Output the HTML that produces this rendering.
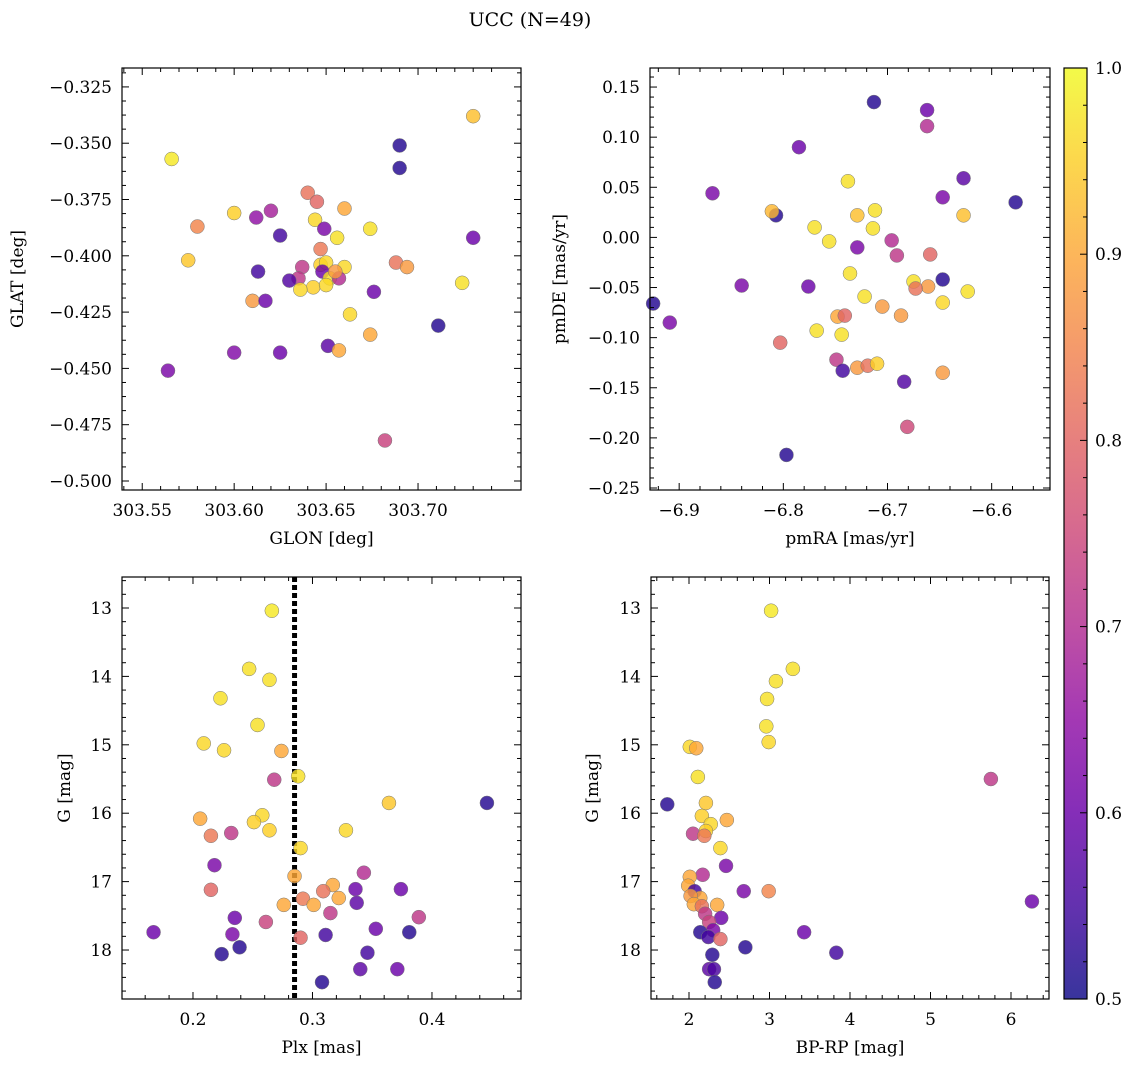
<!DOCTYPE html>
<html><head><meta charset="utf-8"><style>
body{margin:0;background:#fff;}
svg{display:block;font-family:"DejaVu Serif","Liberation Serif",serif;}
</style></head><body>
<svg id="fig" width="1136" height="1067" viewBox="0 0 1136 1067" xmlns="http://www.w3.org/2000/svg">
<text x="530" y="26" font-size="19" text-anchor="middle">UCC (N=49)</text>
</svg>
<script>
// Panel 1: GLON vs GLAT
const p1Glon=[303.730,303.690,303.690,303.566,303.640,303.645,303.600,303.580,303.612,303.620,303.660,303.644,303.625,303.674,303.649,303.656,303.730,303.647,303.575,303.613,303.637,303.647,303.650,303.660,303.688,303.694,303.648,303.652,303.657,303.655,303.635,303.630,303.643,303.650,303.636,303.676,303.610,303.617,303.663,303.711,303.724,303.674,303.600,303.625,303.651,303.657,303.564,303.682];
const p1Glat=[-0.338,-0.351,-0.361,-0.357,-0.372,-0.376,-0.381,-0.387,-0.383,-0.380,-0.379,-0.384,-0.391,-0.388,-0.388,-0.392,-0.392,-0.397,-0.402,-0.407,-0.405,-0.404,-0.403,-0.405,-0.403,-0.405,-0.407,-0.410,-0.410,-0.407,-0.410,-0.411,-0.414,-0.413,-0.415,-0.416,-0.420,-0.420,-0.426,-0.431,-0.412,-0.435,-0.443,-0.443,-0.440,-0.442,-0.451,-0.482];
const p1Prob=[.93,.52,.52,.98,.82,.80,.95,.85,.65,.68,.90,.96,.55,.97,.62,.97,.60,.83,.94,.55,.72,.95,.96,.96,.82,.88,.60,.97,.70,.88,.72,.57,.95,.96,.96,.60,.88,.60,.96,.52,.97,.90,.63,.60,.58,.90,.62,.74];
// Panel 2: pmRA vs pmDE
const p2Pmra=[-6.713,-6.662,-6.662,-6.785,-6.868,-6.738,-6.627,-6.647,-6.577,-6.807,-6.811,-6.712,-6.729,-6.627,-6.770,-6.714,-6.756,-6.696,-6.729,-6.691,-6.659,-6.736,-6.675,-6.647,-6.661,-6.673,-6.623,-6.722,-6.840,-6.776,-6.925,-6.909,-6.647,-6.705,-6.687,-6.768,-6.748,-6.741,-6.744,-6.803,-6.749,-6.743,-6.729,-6.719,-6.710,-6.647,-6.684,-6.681,-6.797];
const p2Pmde=[0.135,0.127,0.111,0.090,0.044,0.056,0.059,0.040,0.035,0.022,0.026,0.027,0.022,0.022,0.010,0.009,-0.004,-0.003,-0.010,-0.018,-0.017,-0.036,-0.044,-0.042,-0.049,-0.051,-0.054,-0.059,-0.048,-0.049,-0.066,-0.085,-0.065,-0.069,-0.078,-0.093,-0.079,-0.078,-0.097,-0.105,-0.122,-0.133,-0.130,-0.128,-0.126,-0.135,-0.144,-0.189,-0.217];
const p2Prob=[.52,.60,.70,.60,.62,.97,.58,.62,.52,.52,.92,.97,.93,.93,.97,.97,.97,.70,.62,.72,.80,.97,.97,.52,.88,.82,.97,.97,.62,.60,.52,.62,.96,.88,.88,.97,.90,.80,.97,.80,.72,.55,.88,.82,.95,.88,.57,.75,.52];
// Panel 3: Plx vs G
const p3Plx=[0.266,0.247,0.264,0.223,0.254,0.209,0.226,0.274,0.268,0.288,0.364,0.446,0.258,0.206,0.251,0.264,0.328,0.215,0.232,0.290,0.218,0.343,0.285,0.317,0.215,0.336,0.309,0.374,0.292,0.322,0.276,0.301,0.337,0.315,0.389,0.235,0.261,0.353,0.167,0.233,0.311,0.381,0.290,0.239,0.346,0.224,0.340,0.371,0.308];
const p3G=[13.04,13.89,14.05,14.32,14.71,14.98,15.08,15.09,15.51,15.46,15.85,15.85,16.03,16.08,16.13,16.25,16.25,16.33,16.29,16.51,16.76,16.87,16.92,17.05,17.12,17.11,17.14,17.11,17.25,17.24,17.34,17.34,17.31,17.46,17.52,17.53,17.59,17.69,17.74,17.77,17.78,17.74,17.82,17.96,18.04,18.06,18.28,18.28,18.47];
const p3Prob=[.98,.97,.97,.97,.97,.96,.96,.90,.72,.97,.94,.52,.96,.90,.95,.95,.96,.83,.72,.96,.62,.70,.90,.90,.80,.60,.82,.60,.83,.90,.90,.90,.58,.72,.72,.60,.74,.60,.60,.62,.55,.52,.80,.52,.55,.52,.58,.60,.52];
const plxMedian=0.285;
// Panel 4: BP-RP vs G
const p4Bprp=[3.02,3.29,3.08,2.97,2.96,2.99,2.01,2.09,2.11,5.75,1.73,2.21,2.16,2.47,2.27,2.05,2.21,2.19,2.39,2.46,2.17,2.01,1.99,2.07,2.68,2.99,2.14,2.02,2.06,2.35,2.16,2.20,2.40,2.25,6.26,2.30,2.14,3.43,2.24,2.39,2.70,3.83,2.29,2.25,2.31,2.32];
const p4G=[13.04,13.89,14.07,14.33,14.73,14.96,15.03,15.05,15.47,15.50,15.87,15.85,16.04,16.10,16.16,16.30,16.26,16.33,16.51,16.77,16.90,16.93,17.06,17.14,17.14,17.14,17.24,17.21,17.33,17.34,17.36,17.47,17.53,17.59,17.29,17.71,17.74,17.74,17.81,17.84,17.96,18.04,18.07,18.28,18.28,18.47];
const p4Prob=[.98,.97,.97,.97,.97,.96,.96,.90,.97,.72,.52,.94,.95,.90,.96,.72,.95,.83,.96,.62,.70,.90,.90,.55,.62,.85,.90,.88,.90,.90,.82,.72,.60,.74,.60,.62,.52,.60,.55,.80,.52,.55,.52,.58,.56,.52];
// Ticks
const p1XTicks=[303.55,303.60,303.65,303.70];
const p1YTicks=[-0.325,-0.35,-0.375,-0.4,-0.425,-0.45,-0.475,-0.5];
const p2XTicks=[-6.9,-6.8,-6.7,-6.6];
const p2YTicks=[0.15,0.10,0.05,0.00,-0.05,-0.10,-0.15,-0.20,-0.25];
const p3XTicks=[0.2,0.3,0.4];
const gTicks=[13,14,15,16,17,18];
const p4XTicks=[2,3,4,5,6];
const cbTicks=[0.5,0.6,0.7,0.8,0.9,1.0];

const NS="http://www.w3.org/2000/svg";
const svg=document.getElementById('fig');
const plasma=['#0d0887','#41049d','#6a00a8','#8f0da4','#b12a90','#cc4778','#e16462','#f2844b','#fca636','#fcce25','#f0f921'];
function hex(h){return [1,3,5].map(i=>parseInt(h.substr(i,2),16));}
function cmap(p){let t=(p-0.5)/0.5;t=Math.max(0,Math.min(1,t))*10;const i=Math.min(9,Math.floor(t));const f=t-i;const a=hex(plasma[i]),b=hex(plasma[i+1]);return 'rgb('+a.map((v,k)=>Math.round(v+(b[k]-v)*f)).join(',')+')';}
function mk(tag,attrs,parent){const e=document.createElementNS(NS,tag);for(const k in attrs)e.setAttribute(k,attrs[k]);(parent||svg).appendChild(e);return e;}
function fmt(v,d){return (v<0?'\u2212':'')+Math.abs(v).toFixed(d);}

function panel(o){
  const g=mk('g',{});
  
  
  const sx=v=>o.x0+(v-o.xl[0])/(o.xl[1]-o.xl[0])*(o.x1-o.x0);
  const sy=v=>o.y1-(v-o.yl[0])/(o.yl[1]-o.yl[0])*(o.y1-o.y0);
  const drawTicks=(ticks,minorN,axis)=>{
    const step=ticks[1]-ticks[0];
    const all=[];
    for(let i=-1;i<ticks.length;i++){for(let j=1;j<minorN;j++){all.push(ticks[0]+step*i+step*j/minorN);}}
    const lim=axis==='x'?o.xl:o.yl;const lo=Math.min(...lim),hi=Math.max(...lim);
    all.forEach(v=>{if(v<lo||v>hi)return;
      if(axis==='x'){const p=sx(v);mk('line',{x1:p,x2:p,y1:o.y1,y2:o.y1-4,stroke:'#000'},g);mk('line',{x1:p,x2:p,y1:o.y0,y2:o.y0+4,stroke:'#000'},g);}
      else{const p=sy(v);mk('line',{y1:p,y2:p,x1:o.x0,x2:o.x0+4,stroke:'#000'},g);mk('line',{y1:p,y2:p,x1:o.x1,x2:o.x1-4,stroke:'#000'},g);}
    });
    ticks.forEach(v=>{
      if(axis==='x'){const p=sx(v);mk('line',{x1:p,x2:p,y1:o.y1,y2:o.y1-7,stroke:'#000'},g);mk('line',{x1:p,x2:p,y1:o.y0,y2:o.y0+7,stroke:'#000'},g);
        const t=mk('text',{x:p,y:o.y1+26,'font-size':17,'text-anchor':'middle'},g);t.textContent=fmt(v,o.xd);
        
        }
      else{const p=sy(v);mk('line',{y1:p,y2:p,x1:o.x0,x2:o.x0+7,stroke:'#000'},g);mk('line',{y1:p,y2:p,x1:o.x1,x2:o.x1-7,stroke:'#000'},g);
        const t=mk('text',{x:o.x0-10,y:p+6,'font-size':17,'text-anchor':'end'},g);t.textContent=fmt(v,o.yd);
        
        }
    });
  };
  if(o.vline!==undefined){const l=mk('line',{x1:sx(o.vline),x2:sx(o.vline),y1:o.y0,y2:o.y1,stroke:'#000','stroke-width':5,'stroke-dasharray':'5,3'},g);
    
    }
  o.xs.forEach((xv,i)=>{
    const c=mk('circle',{cx:sx(xv),cy:sy(o.ys[i]),r:7,fill:cmap(o.ps[i]),'fill-opacity':0.82,stroke:'#777','stroke-width':0.5},g);
    
    
  });
  mk('rect',{x:o.x0,y:o.y0,width:o.x1-o.x0,height:o.y1-o.y0,fill:'none',stroke:'#000','stroke-width':1.2},g);
  drawTicks(o.xt,o.xm,'x');drawTicks(o.yt,o.ym,'y');
  const xl=mk('text',{x:(o.x0+o.x1)/2,y:o.y1+54,'font-size':17,'text-anchor':'middle'},g);xl.textContent=o.xlab;
  
  
  const yx=o.ylx,yy=(o.y0+o.y1)/2;
  const yl=mk('text',{x:yx,y:yy,'font-size':17,'text-anchor':'middle',transform:'rotate(-90 '+yx+' '+yy+')'},g);yl.textContent=o.ylab;
  
  
}
panel({name:'glon-glat-panel',x0:122,x1:521,y0:68,y1:490,xl:[303.539,303.756],yl:[-0.504,-0.3166],xs:p1Glon,ys:p1Glat,ps:p1Prob,xt:p1XTicks,yt:p1YTicks,xm:5,ym:4,xd:2,yd:3,xlab:'GLON [deg]',ylab:'GLAT [deg]',ylx:23});
panel({name:'pm-panel',x0:650,x1:1050,y0:68,y1:490,xl:[-6.928,-6.544],yl:[-0.252,0.169],xs:p2Pmra,ys:p2Pmde,ps:p2Prob,xt:p2XTicks,yt:p2YTicks,xm:5,ym:5,xd:1,yd:2,xlab:'pmRA [mas/yr]',ylab:'pmDE [mas/yr]',ylx:565});
panel({name:'plx-g-panel',x0:122,x1:521,y0:577,y1:999,xl:[0.1406,0.4745],yl:[18.716,12.547],xs:p3Plx,ys:p3G,ps:p3Prob,xt:p3XTicks,yt:gTicks,xm:5,ym:5,xd:1,yd:0,xlab:'Plx [mas]',ylab:'G [mag]',ylx:70,vline:plxMedian});
panel({name:'cmd-panel',x0:651,x1:1049,y0:577,y1:999,xl:[1.528,6.472],yl:[18.716,12.547],xs:p4Bprp,ys:p4G,ps:p4Prob,xt:p4XTicks,yt:gTicks,xm:5,ym:5,xd:0,yd:0,xlab:'BP-RP [mag]',ylab:'G [mag]',ylx:598});

// colorbar
const cb=mk('g',{});


const defs=mk('defs',{},cb);
const lg=mk('linearGradient',{id:'cbg',x1:0,y1:1,x2:0,y2:0},defs);
plasma.forEach((c,i)=>mk('stop',{offset:(i/10),'stop-color':c},lg));
const cx0=1064,cx1=1087,cy0=68,cy1=999;
mk('rect',{x:cx0,y:cy0,width:cx1-cx0,height:cy1-cy0,fill:'url(#cbg)','fill-opacity':0.82},cb);
mk('rect',{x:cx0,y:cy0,width:cx1-cx0,height:cy1-cy0,fill:'none',stroke:'#000','stroke-width':1.2},cb);
const cys=v=>cy1-(v-0.5)/0.5*(cy1-cy0);
for(let v=0.52;v<1.0;v+=0.02){if(Math.abs(v*10-Math.round(v*10))<1e-6)continue;mk('line',{x1:cx1,x2:cx1-4,y1:cys(v),y2:cys(v),stroke:'#000'},cb);}
cbTicks.forEach(v=>{mk('line',{x1:cx1,x2:cx1-7,y1:cys(v),y2:cys(v),stroke:'#000'},cb);
  const t=mk('text',{x:cx1+8,y:cys(v)+6,'font-size':17},cb);t.textContent=v.toFixed(1);
  
  });
</script>
</body></html>
